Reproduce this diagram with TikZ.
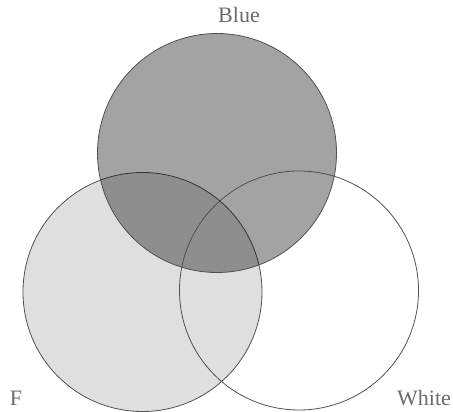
\documentclass[tikz,border=0pt]{standalone}
\usepackage{fontspec}
\setmainfont{Liberation Serif}
\usetikzlibrary{positioning}
\definecolor{Rim}{HTML}{505050}
\definecolor{Pale}{HTML}{DFDFDF}
\definecolor{Label}{HTML}{6A6A6A}

\begin{document}
\begin{tikzpicture}[x=1pt, y=-1pt,
    set/.style={circle, draw=Rim, line width=0.8pt, minimum size=239pt, inner sep=0pt},
    setname/.style={text=Label, font=\fontsize{22}{26}\selectfont, inner sep=0pt}]
    \useasboundingbox (0,0) rectangle (453,412);
    \node[set, fill=Pale] (f) at (142.5,292) {};
    \node[set, fill=black, fill opacity=0.36] (blue) at (217,153) {};
    \node[set] (white) at (299,290.5) {};
    \node[setname] (lblue) at (239,15) {Blue};
    \node[setname] (lf) at (16,398) {F};
    \node[setname] (lwhite) at (424,398) {White};
  \end{tikzpicture}
\end{document}
